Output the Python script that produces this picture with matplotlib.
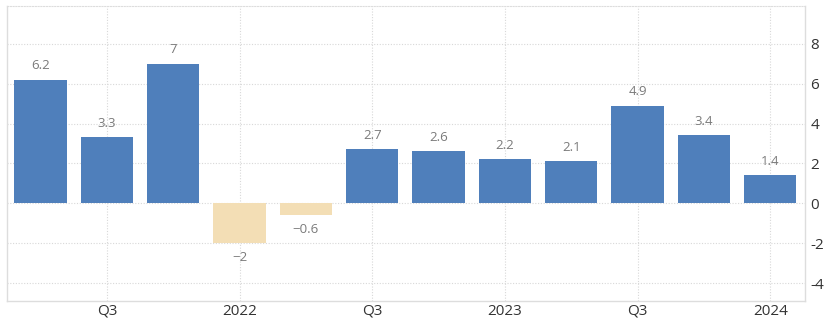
import matplotlib
matplotlib.use("Agg")
import matplotlib.pyplot as plt

# quarterly values, 2021 Q2 .. 2024 Q1
values = [6.2, 3.3, 7, -2, -0.6, 2.7, 2.6, 2.2, 2.1, 4.9, 3.4, 1.4]
labels = ["6.2", "3.3", "7", "\u22122", "\u22120.6", "2.7", "2.6", "2.2", "2.1", "4.9", "3.4", "1.4"]
tick_pos = [1, 3, 5, 7, 9, 11]
tick_labels = ["Q3", "2022", "Q3", "2023", "Q3", "2024"]
y_ticks = [-4, -2, 0, 2, 4, 6, 8]

blue = "#4f7fbb"
tan = "#f3deb5"

plt.rcParams['font.family'] = ['Open Sans', 'DejaVu Sans']

fig = plt.figure(figsize=(8.29, 3.23), dpi=100)
ax = fig.add_axes([0.0088, 0.068, 0.962, 0.914])

x = list(range(len(values)))
colors = [blue if v >= 0 else tan for v in values]
ax.bar(x, values, width=0.79, color=colors, zorder=2)

for xi, v, lab in zip(x, values, labels):
    off = 10 if v >= 0 else -10
    ax.annotate(lab, (xi, v), xytext=(0, off), textcoords="offset points",
                ha="center", va="center", fontsize=9.5, color="#7a7a7a")

ax.set_xlim(-0.5, 11.52)
ax.set_ylim(-4.9, 9.9)
ax.set_xticks(tick_pos)
ax.set_xticklabels(tick_labels)
ax.set_yticks(y_ticks)
ax.set_yticklabels([str(t) for t in y_ticks])
ax.yaxis.tick_right()
ax.tick_params(axis="both", length=0, labelsize=11, colors="#333333")
ax.tick_params(axis="x", pad=2)
ax.tick_params(axis="y", pad=4)

ax.grid(True, color="#d8d8d8", linestyle=(0, (1, 1.5)), linewidth=0.8, zorder=0)
ax.set_axisbelow(True)

for side in ["left", "right", "bottom"]:
    ax.spines[side].set_color("#dddddd")
    ax.spines[side].set_linewidth(1)
ax.spines["top"].set_color("#dddddd")
ax.spines["top"].set_linestyle((0, (1, 1.5)))
ax.spines["top"].set_linewidth(0.8)

fig.savefig("out.png", dpi=100)
